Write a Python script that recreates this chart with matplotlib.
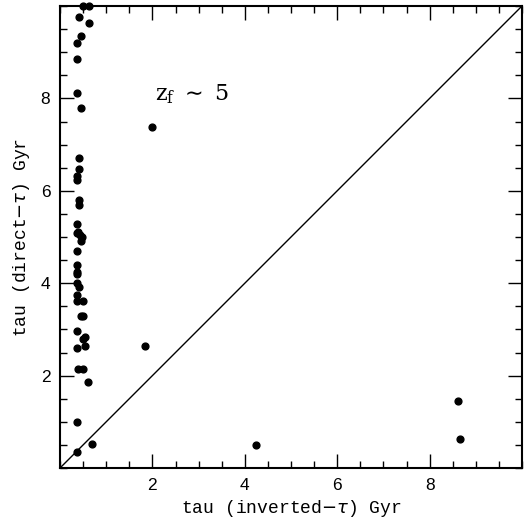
import matplotlib.pyplot as plt
from matplotlib.ticker import MultipleLocator, FixedLocator

# tau values (Gyr)
tau_inverted = [0.50, 0.63, 0.41, 0.63, 0.45, 0.36, 0.36, 0.36, 0.45, 2.00,
                0.41, 0.41, 0.36, 0.36, 0.41, 0.41, 0.36, 0.37, 0.43, 0.47,
                0.40, 0.45, 0.36, 0.36, 0.36, 0.36, 0.36, 0.41, 0.36, 0.36,
                0.50, 0.45, 0.50, 0.36, 0.54, 0.50, 0.54, 0.36, 1.84, 0.40,
                0.50, 0.60, 0.36, 0.36, 0.69, 4.24, 8.62, 8.66]
tau_direct = [9.99, 9.99, 9.77, 9.63, 9.35, 9.21, 8.85, 8.12, 7.80, 7.39,
              6.70, 6.47, 6.33, 6.23, 5.80, 5.69, 5.28, 5.08, 5.04, 4.99,
              5.11, 4.92, 4.70, 4.39, 4.25, 4.21, 4.01, 3.92, 3.74, 3.61,
              3.61, 3.28, 3.28, 2.97, 2.83, 2.79, 2.64, 2.59, 2.64, 2.14,
              2.14, 1.87, 1.00, 0.35, 0.53, 0.50, 1.45, 0.63]
major_ticks = [2, 4, 6, 8]

fig = plt.figure(figsize=(5.24, 5.22), dpi=100)
ax = fig.add_axes([0.1145, 0.1034, 0.8817, 0.8851])

ax.plot([0, 10], [0, 10], color='black', lw=1.0)
ax.scatter(tau_inverted, tau_direct, s=24, color='black', zorder=3, clip_on=False)

ax.set_xlim(0, 10)
ax.set_ylim(0, 10)
for axis in (ax.xaxis, ax.yaxis):
    axis.set_major_locator(FixedLocator(major_ticks))
    axis.set_minor_locator(MultipleLocator(0.5))
ax.tick_params(which='both', direction='in', top=True, right=True, width=1.0)
ax.tick_params(which='major', length=10, labelsize=12.5, pad=7)
ax.tick_params(which='minor', length=5)
for lab in ax.get_xticklabels() + ax.get_yticklabels():
    lab.set_family('Liberation Sans')
for sp in ax.spines.values():
    sp.set_linewidth(1.5)

lab_font = dict(family=['Liberation Mono', 'DejaVu Sans'], fontsize=13)
ax.set_xlabel(r'tau (inverted$-\tau$) Gyr', labelpad=4, **lab_font)
ax.set_ylabel(r'tau (direct$-\tau$) Gyr', labelpad=6, **lab_font)
ax.text(2.06, 7.95, r'$\mathregular{z_f}$ $\sim$ 5', family='DejaVu Serif', fontsize=16)

fig.savefig('out.png', dpi=100)
